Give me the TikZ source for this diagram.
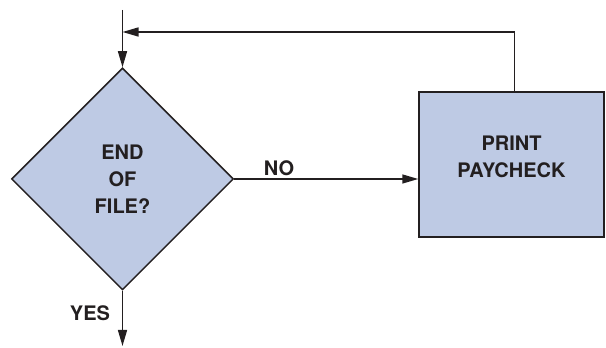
\documentclass[tikz,border=0pt]{standalone}
\usepackage{fontspec}
\setmainfont{TeX Gyre Heros}
\usepackage{xcolor}
\usepackage{tikz}
\usetikzlibrary{arrows.meta,positioning,shapes.geometric}

\definecolor{boxblue}{RGB}{190,202,228}
\definecolor{ink}{RGB}{35,31,32}

\begin{document}
\begin{tikzpicture}[x=1pt,y=1pt,>={Triangle[length=16pt,width=9pt]},
  line width=1.5pt, draw=ink,
  lbl/.style={font=\fontsize{20}{27}\selectfont\bfseries, text=ink, align=center}]

\useasboundingbox (0,0) rectangle (606,348);

% Decision
\node[diamond, draw=ink, fill=boxblue, minimum width=222pt, minimum height=222pt,
  inner sep=0pt, lbl] (eof) at (122.5,169) {END\\OF\\FILE?};

% Process box
\node[rectangle, draw=ink, fill=boxblue, minimum width=185pt, minimum height=145pt] (print) at (511.5,183.5) {};
\node[lbl] (printtxt) at ([yshift=8pt]print.center) {PRINT\\PAYCHECK};

% Entry and loop back
\coordinate (start) at (122.5,338);
\coordinate (merge) at (122.5,316);
\draw[->, ink] (start) -- (eof.north);
\draw[->, ink] ([xshift=3pt]print.north) |- (merge);

% NO branch
\draw[->, ink] (eof.east) -- (eof.east -| print.west);
\node[lbl] (no) at (279,180) {NO};

% YES branch
\coordinate (exit) at (122.5,2);
\draw[->, ink] (eof.south) -- (exit);
\node[lbl] (yes) at (90,35) {YES};

\end{tikzpicture}
\end{document}
